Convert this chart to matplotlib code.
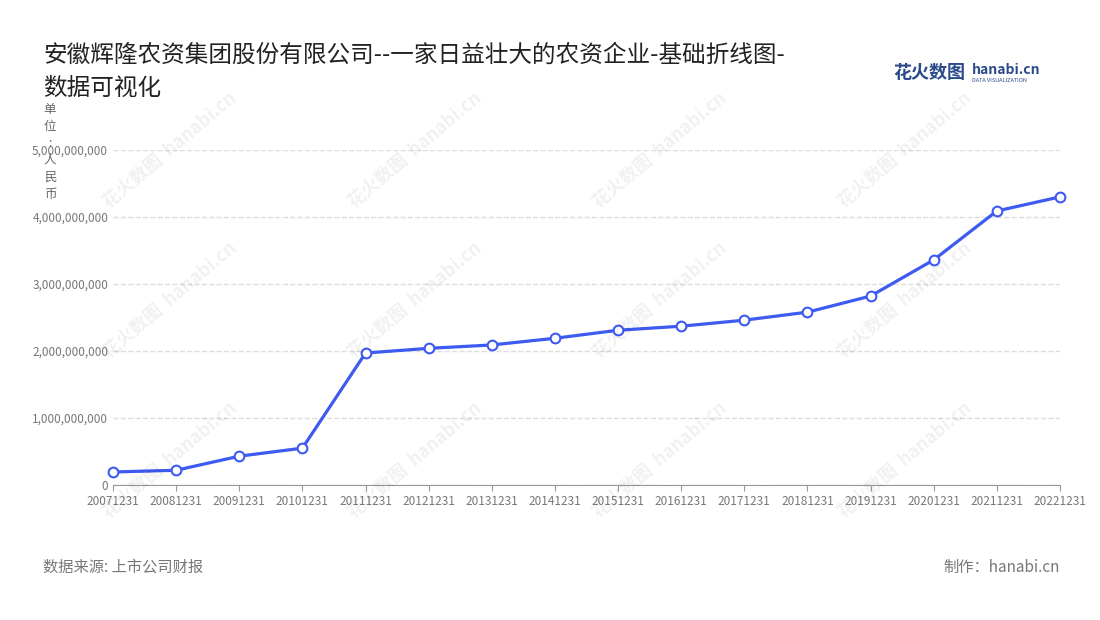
import matplotlib
matplotlib.use("Agg")
import matplotlib.pyplot as plt
from matplotlib.ticker import FuncFormatter

plt.rcParams['font.family'] = ['Noto Sans CJK SC', 'DejaVu Sans']

years = ["20071231","20081231","20091231","20101231","20111231","20121231","20131231","20141231",
         "20151231","20161231","20171231","20181231","20191231","20201231","20211231","20221231"]
values = [0.194e9,0.22e9,0.43e9,0.55e9,1.97e9,2.04e9,2.09e9,2.19e9,2.31e9,2.37e9,2.46e9,2.58e9,2.82e9,3.36e9,4.09e9,4.30e9]
yticks = [0,1e9,2e9,3e9,4e9,5e9]

fig = plt.figure(figsize=(11,6.2), dpi=100)
ax = fig.add_axes([113/1100, 1-485/620, (1060-113)/1100, (485-150)/620])
x = list(range(len(years)))
ax.plot(x, values, color='#3d5af1', lw=2.3, marker='o', ms=7, mfc='white', mec='#3d5af1', mew=1.5, zorder=3, clip_on=False)
ax.set_xlim(0, len(years)-1)
ax.set_ylim(0, 5e9)
ax.set_yticks(yticks)
ax.yaxis.set_major_formatter(FuncFormatter(lambda v,p: f"{int(v):,}"))
ax.set_xticks(x)
ax.set_xticklabels(years)
ax.tick_params(axis='both', labelsize=8.5, colors='#777777', length=0)
ax.tick_params(axis='x', length=4, color='#999999')
ax.grid(axis='y', ls='--', color='#dddddd', lw=1)
for s in ['top','right','left']:
    ax.spines[s].set_visible(False)
ax.spines['bottom'].set_color('#999999')

fig.text(43/1100, 1-55/620, "安徽辉隆农资集团股份有限公司--一家日益壮大的农资企业-基础折线图-", fontsize=17, va='center', color='#222222')
fig.text(43/1100, 1-88/620, "数据可视化", fontsize=17, va='center', color='#222222')
fig.text(50/1100, 1-152/620, "单\n位\n:\n人\n民\n币", fontsize=9, color='#666666', ha='center', va='center', linespacing=1.4)
fig.text(43/1100, 1-567/620, "数据来源: 上市公司财报", fontsize=11, color='#777777', va='center')
fig.text(1060/1100, 1-567/620, "制作：hanabi.cn", fontsize=11, color='#777777', va='center', ha='right')
fig.text(893/1100, 1-72/620, "花火数图", fontsize=13, color='#2b4a8a', weight='bold', va='center')
fig.text(972/1100, 1-70/620, "hanabi.cn", fontsize=10, color='#2b4a8a', weight='bold', va='center')
fig.text(972/1100, 1-80/620, "DATA VISUALIZATION", fontsize=4, color='#2b4a8a', va='center')

for wx in [170, 415, 660, 905]:
    for wy in [150, 300, 460]:
        fig.text(wx/1100, 1-wy/620, "花火数图  hanabi.cn", fontsize=13, color='#000000', alpha=0.06,
                 rotation=40, ha='center', va='center', weight='bold')

fig.savefig("out.png", dpi=100)
